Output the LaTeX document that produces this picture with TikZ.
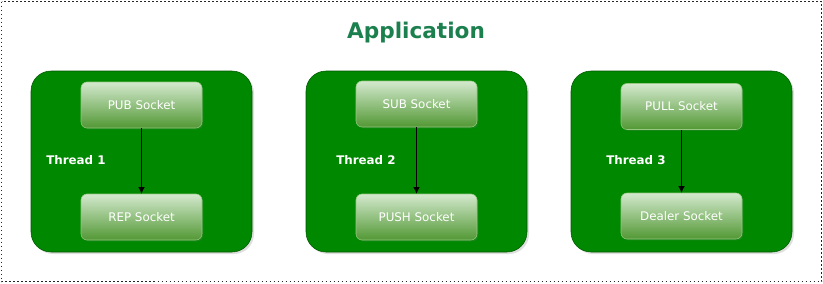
\documentclass[tikz,border=0pt]{standalone}
\usepackage{fontspec}
\setmainfont{DejaVu Sans}
\usetikzlibrary{shadows, arrows.meta}
\definecolor{ThreadGreen}{RGB}{0, 136, 0}
\definecolor{ThreadEdge}{RGB}{0, 87, 0}
\definecolor{SockTop}{RGB}{212, 233, 206}
\definecolor{SockBot}{RGB}{82, 152, 52}
\definecolor{SockEdge}{RGB}{150, 200, 130}
\definecolor{TitleGreen}{RGB}{27, 128, 78}

\begin{document}
\begin{tikzpicture}[x=0.75pt, y=-0.75pt,
        thread/.style={rectangle, rounded corners=15pt, draw=ThreadEdge, fill=ThreadGreen,
            minimum width=165.75pt, minimum height=135.75pt, inner sep=0pt,
            drop shadow={opacity=0.25, shadow xshift=1.5pt, shadow yshift=-1.5pt}},
        socket/.style={rectangle, rounded corners=4.5pt, draw=SockEdge, top color=SockTop, bottom color=SockBot,
            minimum width=90.75pt, minimum height=34.5pt, inner sep=0pt, text=white, font=\fontsize{8.9}{10}\selectfont,
            drop shadow={opacity=0.2, shadow xshift=1pt, shadow yshift=-1pt}},
        tlabel/.style={anchor=west, inner sep=0pt, text=white, font=\fontsize{8.9}{10}\selectfont\bfseries},
        link/.style={-{Latex[length=5pt, width=5pt]}, semithick}
    ]
        \useasboundingbox (0,0) rectangle (823,283);
        % Application frame
        \draw[dash pattern=on 0.8pt off 2.2pt, line width=0.8pt, black!85] (1.5,1.5) rectangle (821.5,281.5);
        \node[text=TitleGreen, font=\fontsize{16.2}{18}\selectfont\bfseries] (title) at (416,32.5) {Application};
        % Threads with their two sockets
        \foreach \i/\cx/\ya/\yb/\lx/\sa/\sb in {1/141.5/105/217/46/PUB/REP,
                                              2/416.5/104/217/336/SUB/PUSH,
                                              3/681.5/106.5/216/606/PULL/Dealer} {
            \node[thread] (t\i) at (\cx, 161.5) {};
            \node[socket] (a\i) at (\cx, \ya) {\sa{} Socket};
            \node[socket] (b\i) at (\cx, \yb) {\sb{} Socket};
            \node[tlabel] (l\i) at (\lx, 160) {Thread \i};
            \draw[link] (a\i) -- (b\i);
        }
    \end{tikzpicture}
\end{document}
